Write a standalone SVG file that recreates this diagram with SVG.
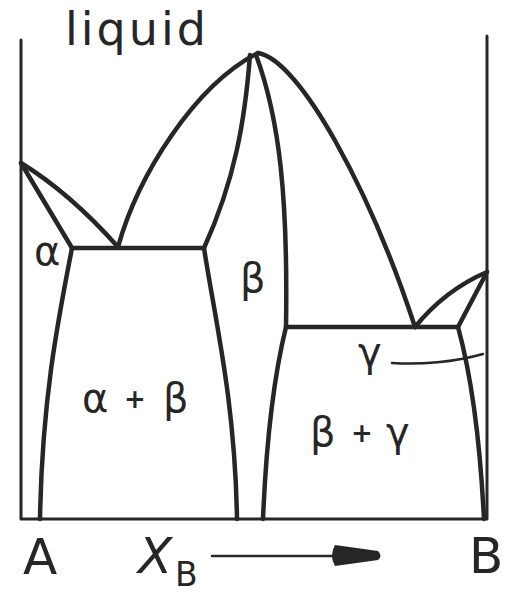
<svg xmlns="http://www.w3.org/2000/svg" width="508" height="594" viewBox="0 0 508 594">
<style>
.ax{fill:none;stroke:#262626;stroke-width:3;stroke-linecap:round;stroke-linejoin:round}
.ln{fill:none;stroke:#262626;stroke-width:4.5;stroke-linecap:round;stroke-linejoin:round}
.th{fill:none;stroke:#262626;stroke-width:2.5;stroke-linecap:round}
.t{font-family:"DejaVu Sans",sans-serif;fill:#262626}
.g{font-family:"DejaVu Sans",sans-serif;fill:#262626;font-size:40px}
</style>
<rect width="508" height="594" fill="#fff"/>
<g id="axes">
<path class="ax" d="M21,40 L21,519 L487,519 L487,36"/>
</g>
<g id="connectors">
<!-- left side -->
<path class="ln" d="M21,163 Q70,193 118,247"/>
<path class="ln" d="M21,163 L72,248"/>
<path class="ln" d="M72,248 C58,320 42,400 40,519"/>
<path class="ln" d="M72,248 L204,248"/>
<path class="ln" d="M118,247 C138,175 195,85 258,53"/>
<!-- peak / beta -->
<path class="ln" d="M258,53 C300,60 370,190 415,327"/>
<path class="ln" d="M250,55 C245,120 235,180 204,248"/>
<path class="ln" d="M204,248 C215,320 235,400 237,519"/>
<path class="ln" d="M256,55 C280,120 288,200 286,327"/>
<path class="ln" d="M286,327 Q268,400 263,519"/>
<path class="ln" d="M286,327 L458,327"/>
<!-- right side -->
<path class="ln" d="M487,272 Q445,290 415,327"/>
<path class="ln" d="M487,272 L458,327"/>
<path class="ln" d="M458,327 Q478,400 484,519"/>
<path class="th" d="M392,363 C420,365 455,362 483,354"/>
<!-- composition arrow -->
<path class="th" d="M212,556 L336,556"/>
<path d="M335,545 Q329,555.5 335,566 L378,560 Q383,556 378,551 Z" fill="#262626"/>
</g>
<g id="labels">
<text id="liquid" class="t" x="65" y="45" font-size="46" letter-spacing="3">liquid</text>
<text id="alpha" class="g" x="34" y="265" font-size="37">α</text>
<text id="beta" class="g" x="240" y="292">β</text>
<text id="alpha-beta" class="g" y="412"><tspan x="82">α</tspan><tspan x="124" font-size="26" font-weight="bold" dy="-4">+</tspan><tspan x="163" dy="4">β</tspan></text>
<text id="gamma" class="g" x="358" y="366">γ</text>
<text id="beta-gamma" class="g" y="446"><tspan x="310">β</tspan><tspan x="351" font-size="26" font-weight="bold" dy="-4">+</tspan><tspan x="386" dy="4">γ</tspan></text>
<text id="A" class="t" x="23" y="574" font-size="50">A</text>
<text id="XB" class="t" y="573" font-size="50"><tspan x="138" font-style="italic">X</tspan><tspan x="175" y="586" font-size="33">B</tspan></text>
<text id="B" class="t" x="469" y="573" font-size="50">B</text>
</g>
</svg>
